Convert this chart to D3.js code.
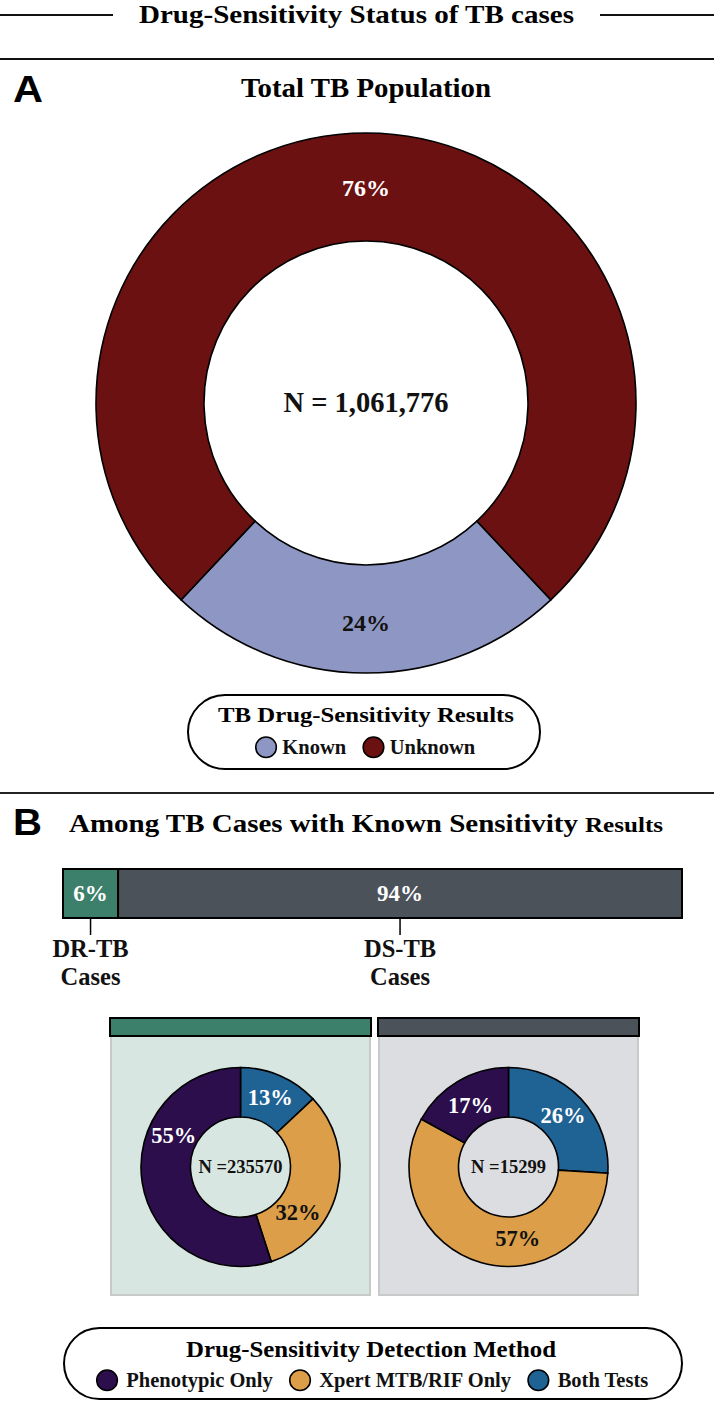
<!DOCTYPE html>
<html><head><meta charset="utf-8">
<script src="https://cdn.jsdelivr.net/npm/d3@7"></script>
<style>
body{margin:0;background:#fff}
svg{display:block}
text{font-family:"Liberation Serif","Times New Roman",serif;font-weight:bold}
</style>
</head><body>
<svg id="chart" width="714" height="1406"></svg>
<script>
// ---------- data ----------
const totalCategories = ["Known", "Unknown"];
const totalShares = [24, 76];
const totalN = "1,061,776";
const sensCategories = ["DR-TB", "DS-TB"];
const sensShares = [6, 94];            // printed labels
const sensBarWidths = [8.9, 91.1];     // segment lengths as drawn in the reference bar
const methodCategories = ["Phenotypic Only", "Xpert MTB/RIF Only", "Both Tests"];
const drMethodShares = [55, 32, 13];
const dsMethodShares = [17, 57, 26];
const panelN = [235570, 15299];

// ---------- styles ----------
const totalColors = ["#8e97c3", "#6c1111"];
const sensColors = ["#3c7f6a", "#4c525a"];
const panelFills = ["#d8e6e1", "#dcdde0"];
const methodColors = ["#2c0e4c", "#dc9e48", "#1f6395"];
const methodTextColors = ["#fff", "#111", "#fff"];

const svg = d3.select("#chart");
const W = 714;

// ---------- header ----------
svg.append("line").attr("x1", 0).attr("x2", 113).attr("y1", 15).attr("y2", 15).attr("stroke", "#111").attr("stroke-width", 2);
svg.append("line").attr("x1", 600).attr("x2", W).attr("y1", 15).attr("y2", 15).attr("stroke", "#111").attr("stroke-width", 2);
svg.append("text").attr("x", 356.5).attr("y", 23).attr("text-anchor", "middle").attr("font-size", 26)
  .attr("textLength", 435).attr("lengthAdjust", "spacingAndGlyphs").text("Drug-Sensitivity Status of TB cases");
svg.append("line").attr("x1", 0).attr("x2", W).attr("y1", 59).attr("y2", 59).attr("stroke", "#111").attr("stroke-width", 2);

// ---------- panel A ----------
svg.append("text").attr("x", 13).attr("y", 102).attr("font-size", 36)
  .attr("textLength", 30).attr("lengthAdjust", "spacingAndGlyphs")
  .style("font-family", "'Liberation Sans',Arial,sans-serif").text("A");
svg.append("text").attr("x", 366).attr("y", 97).attr("text-anchor", "middle").attr("font-size", 28)
  .attr("textLength", 250).attr("lengthAdjust", "spacingAndGlyphs").text("Total TB Population");

const cA = [366, 403];
const totalData = totalCategories.map((c, i) => ({cat: c, v: totalShares[i], color: totalColors[i]}));
const knownFrac = totalShares[0] / d3.sum(totalShares);
const pieA = d3.pie().sort(null).value(d => d.v)
  .startAngle(Math.PI - Math.PI * knownFrac).endAngle(3 * Math.PI - Math.PI * knownFrac);
const arcA = d3.arc().innerRadius(162).outerRadius(270);
const gA = svg.append("g").attr("transform", `translate(${cA})`);
const arcsA = pieA(totalData);
gA.selectAll("path").data(arcsA).join("path").attr("d", arcA)
  .attr("fill", d => d.data.color).attr("stroke", "#000").attr("stroke-width", 1.6);
gA.selectAll("text.pct").data(arcsA).join("text").attr("class", "pct")
  .attr("x", d => arcA.centroid(d)[0]).attr("y", (d, i) => arcA.centroid(d)[1] + (i === 0 ? 12 : 9))
  .attr("text-anchor", "middle").attr("font-size", 24)
  .attr("fill", (d, i) => i === 0 ? "#111" : "#fff").text(d => d.data.v + "%");
gA.append("text").attr("x", 0).attr("y", 9).attr("text-anchor", "middle").attr("font-size", 28.5)
  .attr("fill", "#111").text("N = " + totalN);

// legend helper
function legend(g, cx, y, items, colors, gapAfterCircle, gapBetween, r, fs) {
  const grp = g.append("g");
  let x = 0;
  items.forEach((t, i) => {
    grp.append("circle").attr("cx", x + r).attr("cy", y - fs * 0.33).attr("r", r)
      .attr("fill", colors[i]).attr("stroke", "#000").attr("stroke-width", 1.6);
    const tx = grp.append("text").attr("x", x + 2 * r + gapAfterCircle).attr("y", y).attr("font-size", fs).attr("fill", "#111").text(t);
    x += 2 * r + gapAfterCircle + tx.node().getComputedTextLength() + gapBetween;
  });
  const total = x - gapBetween;
  grp.attr("transform", `translate(${cx - total / 2},0)`);
}
svg.append("rect").attr("x", 188).attr("y", 695).attr("width", 352).attr("height", 74).attr("rx", 37)
  .attr("fill", "#fff").attr("stroke", "#000").attr("stroke-width", 2);
svg.append("text").attr("x", 366).attr("y", 722).attr("text-anchor", "middle").attr("font-size", 22)
  .attr("textLength", 296).attr("lengthAdjust", "spacingAndGlyphs").text("TB Drug-Sensitivity Results");
legend(svg, 365.5, 754, totalCategories, totalColors, 6, 17, 10.3, 20.5);

svg.append("line").attr("x1", 0).attr("x2", W).attr("y1", 793).attr("y2", 793).attr("stroke", "#222").attr("stroke-width", 2);

// ---------- panel B ----------
svg.append("text").attr("x", 13).attr("y", 835).attr("font-size", 36)
  .attr("textLength", 29).attr("lengthAdjust", "spacingAndGlyphs")
  .style("font-family", "'Liberation Sans',Arial,sans-serif").text("B");
svg.append("text").attr("x", 69).attr("y", 832).attr("font-size", 26)
  .attr("textLength", 509).attr("lengthAdjust", "spacingAndGlyphs").text("Among TB Cases with Known Sensitivity");
svg.append("text").attr("x", 585).attr("y", 832).attr("font-size", 20)
  .attr("textLength", 78).attr("lengthAdjust", "spacingAndGlyphs").text("Results");

const xBar = d3.scaleLinear().domain([0, d3.sum(sensBarWidths)]).range([63, 682]);
const stack = [];
let acc = 0;
sensBarWidths.forEach((v, i) => { stack.push({cat: sensCategories[i], label: sensShares[i], x0: acc, x1: acc + v, color: sensColors[i]}); acc += v; });
const barY = 869, barH = 49;
svg.selectAll("rect.seg").data(stack).join("rect").attr("class", "seg")
  .attr("x", d => xBar(d.x0)).attr("width", d => xBar(d.x1) - xBar(d.x0))
  .attr("y", barY).attr("height", barH).attr("fill", d => d.color).attr("stroke", "#000").attr("stroke-width", 2);
svg.selectAll("text.segl").data(stack).join("text").attr("class", "segl")
  .attr("x", d => xBar((d.x0 + d.x1) / 2)).attr("y", 901).attr("text-anchor", "middle")
  .attr("font-size", 23).attr("fill", "#fff").text(d => d.label + "%");
svg.selectAll("line.tick").data(stack).join("line").attr("class", "tick")
  .attr("x1", d => xBar((d.x0 + d.x1) / 2)).attr("x2", d => xBar((d.x0 + d.x1) / 2))
  .attr("y1", barY + barH).attr("y2", 935).attr("stroke", "#000").attr("stroke-width", 1.5);
stack.forEach(d => {
  const t = svg.append("text").attr("x", xBar((d.x0 + d.x1) / 2)).attr("text-anchor", "middle").attr("font-size", 24.5).attr("fill", "#111");
  t.append("tspan").attr("x", xBar((d.x0 + d.x1) / 2)).attr("y", 957).text(d.cat);
  t.append("tspan").attr("x", xBar((d.x0 + d.x1) / 2)).attr("y", 985).text("Cases");
});

// panels
const xPanel = d3.scaleBand().domain(sensCategories).range([110, 639]).paddingInner(0.026);
const methodSets = [drMethodShares, dsMethodShares];
// label nudges (px) per panel, per method category, to mimic reference placement
const labelNudge = [
  [[7, -43], [-15, 27], [0, 0]],
  [[0, 3], [30, 0], [0, 0]]
];
sensCategories.forEach((cat, p) => {
  const x0 = xPanel(cat), bw = xPanel.bandwidth();
  svg.append("rect").attr("x", x0 + 1).attr("y", 1036).attr("width", bw - 2).attr("height", 259)
    .attr("fill", panelFills[p]).attr("stroke", "#c8cac9").attr("stroke-width", 2);
  svg.append("rect").attr("x", x0).attr("y", 1018).attr("width", bw).attr("height", 18)
    .attr("fill", sensColors[p]).attr("stroke", "#000").attr("stroke-width", 2);
  const cx = x0 + bw / 2, cy = 1167;
  const data = methodCategories.map((c, i) => ({cat: c, i, v: methodSets[p][i]})).reverse();
  const pie = d3.pie().sort(null).value(d => d.v);
  const arc = d3.arc().innerRadius(50).outerRadius(99.5);
  const g = svg.append("g").attr("transform", `translate(${cx},${cy})`);
  const arcs = pie(data);
  g.selectAll("path").data(arcs).join("path").attr("d", arc)
    .attr("fill", d => methodColors[d.data.i]).attr("stroke", "#000").attr("stroke-width", 1.6);
  g.selectAll("text.pct").data(arcs).join("text").attr("class", "pct")
    .attr("x", d => arc.centroid(d)[0] + labelNudge[p][d.data.i][0])
    .attr("y", d => arc.centroid(d)[1] + 7 + labelNudge[p][d.data.i][1])
    .attr("text-anchor", "middle").attr("font-size", 22.5)
    .attr("fill", d => methodTextColors[d.data.i]).text(d => d.data.v + "%");
  g.append("text").attr("x", 0).attr("y", 6).attr("text-anchor", "middle").attr("font-size", 18.5)
    .attr("fill", "#111").text("N =" + panelN[p]);
});

// legend B
svg.append("rect").attr("x", 64).attr("y", 1328).attr("width", 618).attr("height", 71).attr("rx", 35.5)
  .attr("fill", "#fff").attr("stroke", "#000").attr("stroke-width", 2);
svg.append("text").attr("x", 371).attr("y", 1357).attr("text-anchor", "middle").attr("font-size", 23)
  .attr("textLength", 370).attr("lengthAdjust", "spacingAndGlyphs").text("Drug-Sensitivity Detection Method");
legend(svg, 372.5, 1387, methodCategories, methodColors, 9, 17, 10.3, 20.5);
</script>
</body></html>
